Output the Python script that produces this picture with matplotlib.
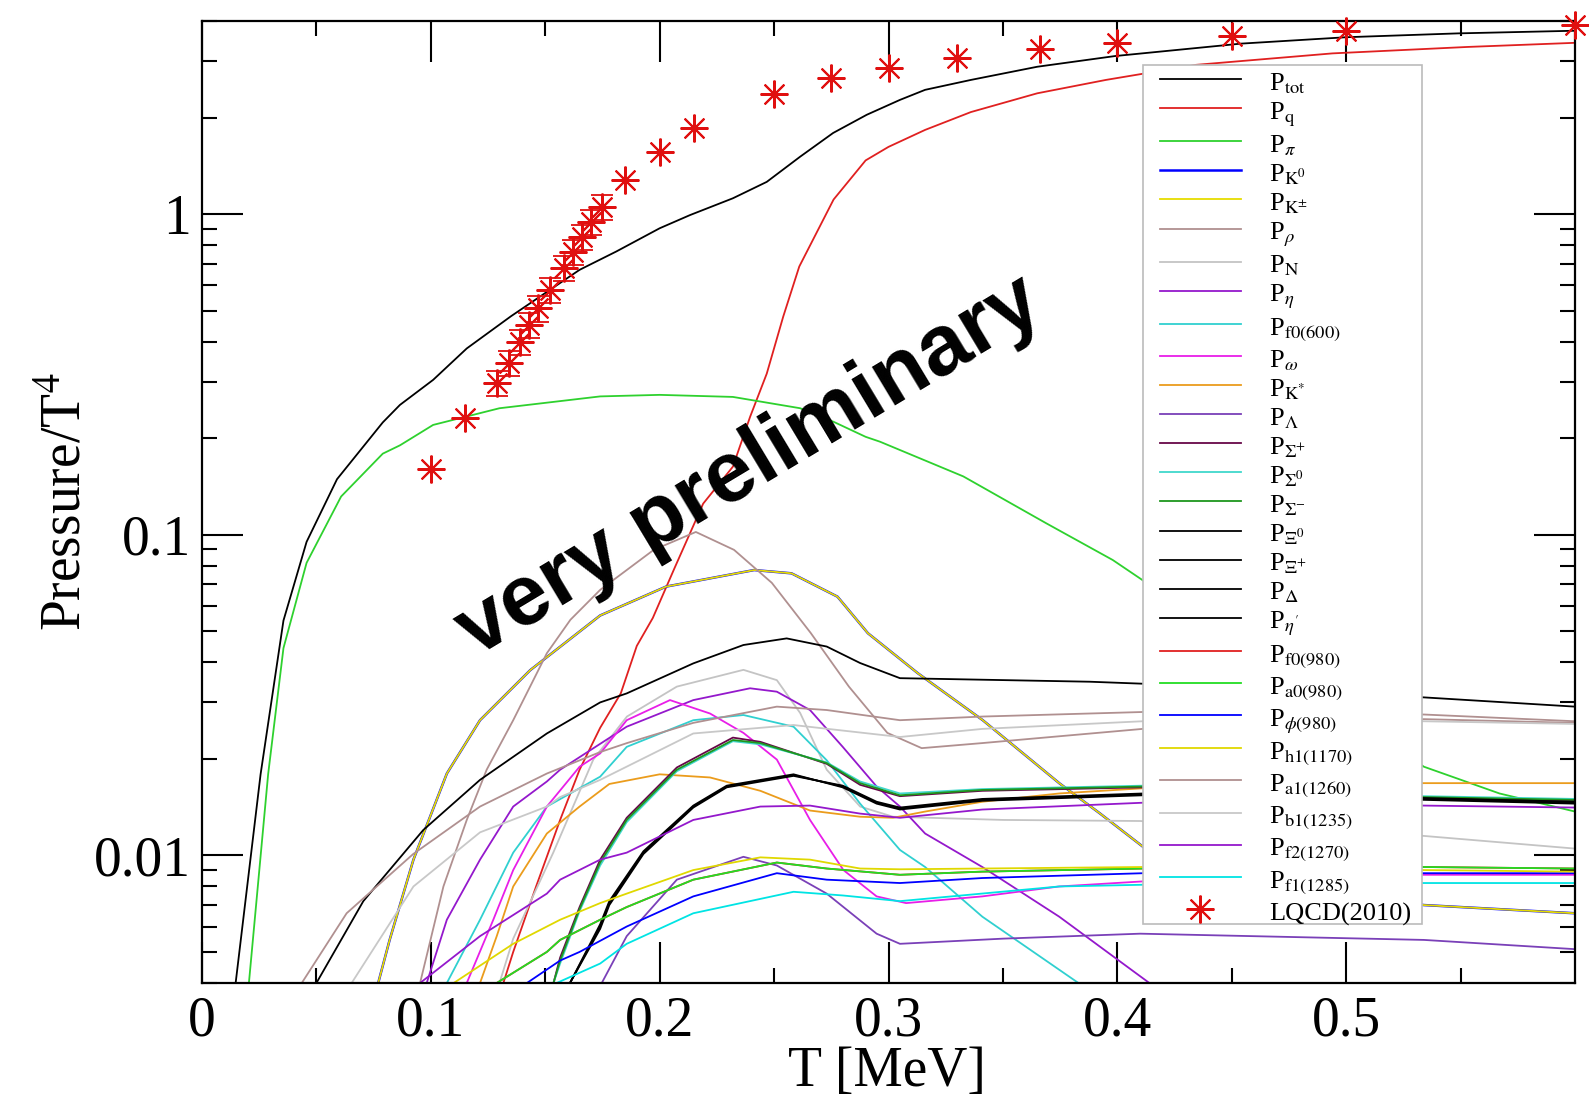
import matplotlib
matplotlib.use('Agg')
import matplotlib.pyplot as plt
from matplotlib.patches import Rectangle
from matplotlib.ticker import FixedLocator, LogLocator, NullFormatter, FuncFormatter

plt.rcParams['font.family'] = ['Liberation Serif', 'DejaVu Serif']
plt.rcParams['mathtext.fontset'] = 'stix'

# ---- data (T in MeV axis units, P/T^4) ----
T_tot = [0.0147, 0.0256, 0.0356, 0.0457, 0.059, 0.079, 0.0865, 0.101, 0.1157, 0.135, 0.152, 0.165,
         0.181, 0.200, 0.2133, 0.232, 0.2468, 0.2614, 0.2758, 0.2905, 0.305, 0.316, 0.336, 0.365,
         0.399, 0.454, 0.500, 0.549, 0.600]
P_tot = [0.004, 0.0179, 0.054, 0.095, 0.149, 0.224, 0.254, 0.304, 0.381, 0.48, 0.58, 0.67,
         0.764, 0.903, 0.993, 1.12, 1.26, 1.51, 1.79, 2.04, 2.27, 2.44, 2.62, 2.88,
         3.11, 3.40, 3.56, 3.66, 3.73]

T_q = [0.1317, 0.136, 0.146, 0.1565, 0.165, 0.174, 0.183, 0.190, 0.197, 0.2066, 0.219, 0.232,
       0.2395, 0.2468, 0.254, 0.261, 0.276, 0.290, 0.300, 0.316, 0.336, 0.365, 0.395, 0.4345,
       0.494, 0.553, 0.600]
P_q = [0.004, 0.005, 0.008, 0.0129, 0.0185, 0.025, 0.032, 0.045, 0.055, 0.079, 0.125, 0.163,
       0.233, 0.318, 0.479, 0.686, 1.11, 1.47, 1.62, 1.83, 2.08, 2.38, 2.62, 2.92,
       3.17, 3.32, 3.42]

T_pi = [0.0205, 0.0289, 0.0356, 0.0457, 0.0608, 0.079, 0.0865, 0.101, 0.130, 0.174, 0.200, 0.232,
        0.2614, 0.276, 0.290, 0.2963, 0.3327, 0.369, 0.398, 0.412, 0.450, 0.500, 0.534, 0.567, 0.600]
P_pi = [0.004, 0.0179, 0.0443, 0.0817, 0.1316, 0.179, 0.19, 0.22, 0.248, 0.27, 0.273, 0.269,
        0.248, 0.225, 0.202, 0.195, 0.152, 0.1085, 0.0834, 0.0714, 0.047, 0.0275, 0.0189, 0.0156, 0.0137]

T_K = [0.077, 0.082, 0.0924, 0.107, 0.1215, 0.1434, 0.174, 0.2028, 0.2413, 0.2576, 0.2777, 0.291,
       0.3128, 0.3412, 0.3746, 0.3925, 0.4115, 0.450, 0.534, 0.600]
P_K = [0.004, 0.00545, 0.0097, 0.018, 0.0264, 0.0378, 0.056, 0.0689, 0.0776, 0.0758, 0.0641, 0.0493,
       0.037, 0.0264, 0.0168, 0.0135, 0.0106, 0.0084, 0.0070, 0.0066]

T_rho = [0.0953, 0.1055, 0.1157, 0.1244, 0.136, 0.1507, 0.161, 0.174, 0.1974, 0.2158, 0.2325, 0.249,
         0.266, 0.2827, 0.2995, 0.3145, 0.341, 0.411, 0.534, 0.600]
P_rho = [0.004, 0.008, 0.0129, 0.0185, 0.0264, 0.0427, 0.0543, 0.0673, 0.0897, 0.102, 0.0897, 0.0708,
         0.0494, 0.0336, 0.0241, 0.0216, 0.0224, 0.0248, 0.0266, 0.0259]

T_N = [0.130, 0.136, 0.1535, 0.171, 0.1857, 0.2075, 0.2366, 0.2512, 0.2614, 0.273, 0.2876, 0.302,
       0.350, 0.410, 0.534, 0.600]
P_N = [0.004, 0.0055, 0.0102, 0.0199, 0.0271, 0.0336, 0.0379, 0.0352, 0.0278, 0.0185, 0.0142, 0.0132,
       0.0129, 0.0128, 0.0115, 0.0105]

T_eta = [0.0982, 0.107, 0.1215, 0.136, 0.1507, 0.1565, 0.1856, 0.2147, 0.2395, 0.2512, 0.2657, 0.280,
         0.2948, 0.305, 0.316, 0.341, 0.3746, 0.408, 0.414]
P_eta = [0.004, 0.0063, 0.0097, 0.0142, 0.017, 0.0185, 0.0252, 0.0305, 0.0332, 0.0324, 0.0284, 0.0218,
         0.0164, 0.0142, 0.0117, 0.0092, 0.00644, 0.0043, 0.004]

T_f0600 = [0.107, 0.1215, 0.136, 0.1507, 0.174, 0.1856, 0.2147, 0.2366, 0.2585, 0.273, 0.2876, 0.305,
           0.316, 0.341, 0.383]
P_f0600 = [0.004, 0.0063, 0.0102, 0.0142, 0.0176, 0.0218, 0.0264, 0.0274, 0.0252, 0.0198, 0.0145, 0.0104,
           0.0092, 0.00644, 0.004]

T_omega = [0.1157, 0.1273, 0.136, 0.1507, 0.165, 0.174, 0.1856, 0.2045, 0.222, 0.2366, 0.2512, 0.2657,
           0.2803, 0.2948, 0.3077, 0.341, 0.3746, 0.4115, 0.534, 0.600]
P_omega = [0.004, 0.0063, 0.009, 0.0142, 0.0189, 0.0208, 0.0264, 0.0305, 0.0277, 0.0241, 0.0199, 0.0129,
           0.0090, 0.00745, 0.0071, 0.00745, 0.0080, 0.0083, 0.0087, 0.0087]

T_Kst = [0.1215, 0.1288, 0.136, 0.1507, 0.165, 0.178, 0.200, 0.222, 0.244, 0.2657, 0.2876, 0.302,
         0.316, 0.341, 0.3746, 0.4115, 0.534, 0.600]
P_Kst = [0.004, 0.0056, 0.008, 0.0117, 0.0142, 0.0167, 0.0179, 0.0175, 0.0159, 0.0138, 0.0132, 0.0131,
         0.0137, 0.0147, 0.0156, 0.0162, 0.0168, 0.0168]

T_Lam = [0.1747, 0.1856, 0.2075, 0.2366, 0.2512, 0.273, 0.2948, 0.305, 0.350, 0.410, 0.534, 0.600]
P_Lam = [0.004, 0.0056, 0.0084, 0.0099, 0.0093, 0.0076, 0.0057, 0.0053, 0.0055, 0.0057, 0.00545, 0.0051]

T_Sig = [0.1536, 0.1565, 0.165, 0.174, 0.1856, 0.2075, 0.232, 0.244, 0.273, 0.2876, 0.305, 0.341,
         0.4115, 0.534, 0.600]
P_Sigp = [0.004, 0.0048, 0.0069, 0.0097, 0.0131, 0.0188, 0.0233, 0.0226, 0.0193, 0.0166, 0.0153, 0.0159,
          0.0163, 0.0151, 0.0148]
P_Sig0 = [0.004, 0.0046, 0.0067, 0.0093, 0.0127, 0.0183, 0.0227, 0.0222, 0.0195, 0.0170, 0.0156, 0.0161,
          0.0165, 0.0153, 0.0150]
P_Sigm = [0.004, 0.0047, 0.0068, 0.0095, 0.0129, 0.0185, 0.0229, 0.0224, 0.0194, 0.0168, 0.0154, 0.0160,
          0.0164, 0.0152, 0.0149]

T_Xi = [0.1608, 0.174, 0.178, 0.1929, 0.2147, 0.2293, 0.2585, 0.280, 0.2948, 0.305, 0.341, 0.4115,
        0.534, 0.600]
P_Xi0 = [0.004, 0.006, 0.0071, 0.0102, 0.0142, 0.0164, 0.0178, 0.0164, 0.0146, 0.0140, 0.0149, 0.0155,
         0.0150, 0.0146]
P_Xip = [0.004, 0.0059, 0.0070, 0.0101, 0.0141, 0.0163, 0.0177, 0.0165, 0.0147, 0.0141, 0.0150, 0.0156,
         0.0151, 0.0147]
P_etap = [0.004, 0.0061, 0.0072, 0.0103, 0.0143, 0.0165, 0.0179, 0.0163, 0.0145, 0.0139, 0.0148, 0.0154,
          0.0149, 0.0145]

T_Del = [0.050, 0.0705, 0.0967, 0.1215, 0.1507, 0.174, 0.1856, 0.2147, 0.2366, 0.2555, 0.273, 0.2876,
         0.305, 0.388, 0.4115, 0.534, 0.600]
P_Del = [0.004, 0.0072, 0.012, 0.0172, 0.024, 0.030, 0.032, 0.0397, 0.0453, 0.0475, 0.0448, 0.0398,
         0.0357, 0.0348, 0.0343, 0.0311, 0.0291]

T_a0 = [0.1288, 0.1507, 0.1565, 0.174, 0.1856, 0.2147, 0.2512, 0.273, 0.305, 0.341, 0.4115, 0.534, 0.600]
P_a0 = [0.004, 0.005, 0.00545, 0.0063, 0.0069, 0.0084, 0.0095, 0.0091, 0.0087, 0.0089, 0.0091, 0.0092, 0.0091]

T_phi = [0.142, 0.1565, 0.165, 0.1856, 0.2147, 0.2512, 0.273, 0.305, 0.341, 0.4115, 0.534, 0.600]
P_phi = [0.004, 0.0047, 0.005, 0.006, 0.00745, 0.0088, 0.0084, 0.0082, 0.0085, 0.0088, 0.0088, 0.0088]

T_h1 = [0.110, 0.136, 0.1565, 0.174, 0.1856, 0.2147, 0.244, 0.2657, 0.2876, 0.305, 0.341, 0.4115, 0.534, 0.600]
P_h1 = [0.004, 0.0053, 0.0063, 0.0071, 0.0076, 0.009, 0.00986, 0.0097, 0.0091, 0.00905, 0.0091, 0.0092,
        0.0090, 0.0089]

T_a1 = [0.0436, 0.0632, 0.0923, 0.1215, 0.1507, 0.174, 0.1857, 0.2147, 0.2512, 0.273, 0.305, 0.341,
        0.411, 0.534, 0.600]
P_a1 = [0.004, 0.0066, 0.0101, 0.0142, 0.018, 0.021, 0.0224, 0.0259, 0.0291, 0.0284, 0.0264, 0.0271,
        0.028, 0.0275, 0.0262]

T_b1 = [0.0654, 0.0924, 0.1215, 0.1507, 0.1565, 0.174, 0.2147, 0.2585, 0.305, 0.341, 0.411, 0.534, 0.600]
P_b1 = [0.004, 0.008, 0.0118, 0.0142, 0.0152, 0.0172, 0.024, 0.0255, 0.0234, 0.0248, 0.0262, 0.0262, 0.0257]

T_f2 = [0.0953, 0.1215, 0.1507, 0.1565, 0.174, 0.1856, 0.2147, 0.244, 0.2657, 0.2876, 0.305, 0.341,
        0.4115, 0.534, 0.600]
P_f2 = [0.004, 0.0056, 0.0076, 0.0084, 0.0097, 0.0102, 0.0129, 0.0142, 0.0143, 0.0135, 0.0131, 0.0139,
        0.0146, 0.0143, 0.0141]

T_f1 = [0.155, 0.174, 0.1856, 0.2147, 0.2585, 0.280, 0.305, 0.3746, 0.4115, 0.534, 0.600]
P_f1 = [0.004, 0.0046, 0.0053, 0.0066, 0.0077, 0.0075, 0.0072, 0.0080, 0.0081, 0.0082, 0.0082]

T_lqcd = [0.100, 0.115, 0.129, 0.134, 0.139, 0.143, 0.147, 0.152, 0.158, 0.162, 0.166, 0.170, 0.175,
          0.185, 0.200, 0.215, 0.250, 0.275, 0.300, 0.330, 0.366, 0.400, 0.450, 0.500, 0.600]
P_lqcd = [0.160, 0.231, 0.298, 0.343, 0.400, 0.451, 0.508, 0.579, 0.678, 0.760, 0.85, 0.947, 1.05,
          1.28, 1.56, 1.85, 2.36, 2.66, 2.86, 3.07, 3.27, 3.42, 3.59, 3.72, 3.88]
E_lqcd = [0, 0, 0.027, 0.031, 0.036, 0.041, 0.046, 0.052, 0.061, 0.068, 0.076, 0.085, 0.094,
          0, 0, 0, 0, 0, 0, 0, 0, 0, 0, 0, 0]

# (label, T, P, colour) in the order the sets are drawn
sets = [
    ('P$_{\\mathrm{tot}}$', T_tot, P_tot, 'black'),
    ('P$_{\\mathrm{q}}$', T_q, P_q, '#e02020'),
    ('P$_{\\pi}$', T_pi, P_pi, '#2ed12e'),
    ('P$_{\\mathrm{K}^{0}}$', T_K, P_K, '#0000ff'),
    ('P$_{\\mathrm{K}^{\\pm}}$', T_K, P_K, '#e6dc00'),
    ('P$_{\\rho}$', T_rho, P_rho, '#b09090'),
    ('P$_{\\mathrm{N}}$', T_N, P_N, '#c4c4c4'),
    ('P$_{\\eta}$', T_eta, P_eta, '#9418cc'),
    ('P$_{\\mathrm{f0(600)}}$', T_f0600, P_f0600, '#30d0d0'),
    ('P$_{\\omega}$', T_omega, P_omega, '#e81ee8'),
    ('P$_{\\mathrm{K}^{*}}$', T_Kst, P_Kst, '#eb9c1c'),
    ('P$_{\\Lambda}$', T_Lam, P_Lam, '#7a40b8'),
    ('P$_{\\Sigma^{+}}$', T_Sig, P_Sigp, '#670748'),
    ('P$_{\\Sigma^{0}}$', T_Sig, P_Sig0, '#40d8cc'),
    ('P$_{\\Sigma^{-}}$', T_Sig, P_Sigm, '#1e961e'),
    ('P$_{\\Xi^{0}}$', T_Xi, P_Xi0, 'black'),
    ('P$_{\\Xi^{+}}$', T_Xi, P_Xip, 'black'),
    ('P$_{\\Delta}$', T_Del, P_Del, 'black'),
    ("P$_{\\eta'}$", T_Xi, P_etap, 'black'),
    ('P$_{\\mathrm{f0(980)}}$', T_a0, P_a0, '#e02020'),
    ('P$_{\\mathrm{a0(980)}}$', T_a0, P_a0, '#22dd22'),
    ('P$_{\\phi\\mathrm{(980)}}$', T_phi, P_phi, '#0000ff'),
    ('P$_{\\mathrm{h1(1170)}}$', T_h1, P_h1, '#e0d800'),
    ('P$_{\\mathrm{a1(1260)}}$', T_a1, P_a1, '#b09090'),
    ('P$_{\\mathrm{b1(1235)}}$', T_b1, P_b1, '#c8c8c8'),
    ('P$_{\\mathrm{f2(1270)}}$', T_f2, P_f2, '#9418cc'),
    ('P$_{\\mathrm{f1(1285)}}$', T_f1, P_f1, '#00e4e4'),
]

fig = plt.figure(figsize=(15.89, 11.0), dpi=100)
ax = fig.add_axes([202 / 1589, 1 - 983 / 1100, 1373 / 1589, 962 / 1100])

for label, T, P, col in sets:
    lw = 1.8 if label == 'P$_{\\mathrm{K}^{0}}$' else 1.3
    ax.plot(T, P, color=col, lw=lw, label=label)

ax.errorbar(T_lqcd, P_lqcd, yerr=E_lqcd, fmt='none', ecolor='#e01010', elinewidth=1.3,
            capsize=8, capthick=1.3, clip_on=False, zorder=5)
ax.plot(T_lqcd, P_lqcd, ls='none', marker=(8, 2, 0), ms=20, mew=1.5, color='#e01010',
        label='LQCD(2010)', clip_on=False, zorder=6)

ax.set_yscale('log')
ax.set_xlim(0, 0.6)
ax.set_ylim(0.004, 4)

ax.xaxis.set_major_locator(FixedLocator([0, 0.1, 0.2, 0.3, 0.4, 0.5]))
ax.xaxis.set_minor_locator(FixedLocator([0.05, 0.15, 0.25, 0.35, 0.45, 0.55]))
ax.xaxis.set_major_formatter(FuncFormatter(lambda v, p: '0' if v == 0 else '%g' % v))
ax.yaxis.set_major_locator(FixedLocator([0.01, 0.1, 1]))
ax.yaxis.set_minor_locator(LogLocator(base=10, subs=range(2, 10)))
ax.yaxis.set_minor_formatter(NullFormatter())
ax.yaxis.set_major_formatter(FuncFormatter(lambda v, p: '%g' % v))

ax.tick_params(which='both', direction='in', top=True, right=True, width=1.5, colors='black')
ax.tick_params(which='major', length=29.5, labelsize=40)
ax.tick_params(axis='x', which='major', pad=9)
ax.tick_params(axis='y', which='major', pad=8)
ax.tick_params(which='minor', length=11)
for s in ax.spines.values():
    s.set_linewidth(1.6)

ax.set_xlabel('T [MeV]', fontsize=40)
ax.set_ylabel('Pressure/T$^4$', fontsize=40)
ax.xaxis.set_label_coords(0.499, -0.066)
ax.yaxis.set_label_coords(-0.08, 0.5)

# legend box drawn separately so its padding can differ from the entry layout
box = Rectangle((0.6854, 0.0613), 0.2032, 0.8929, transform=ax.transAxes, facecolor='white',
                edgecolor='#bbbbbb', lw=1.2, zorder=4)
ax.add_patch(box)
leg = ax.legend(loc='upper left', bbox_to_anchor=(0.6977, 0.951), borderaxespad=0,
                fontsize=19, frameon=False, handlelength=3.07, handletextpad=1.06,
                handleheight=1.15, labelspacing=0.055, borderpad=0, numpoints=1)

fig.text(0.472, 0.575, 'very preliminary', fontsize=62, fontweight='bold',
         family=['Liberation Sans', 'DejaVu Sans'], rotation=31, ha='center', va='center',
         rotation_mode='anchor')

fig.savefig('out.png', dpi=100)
